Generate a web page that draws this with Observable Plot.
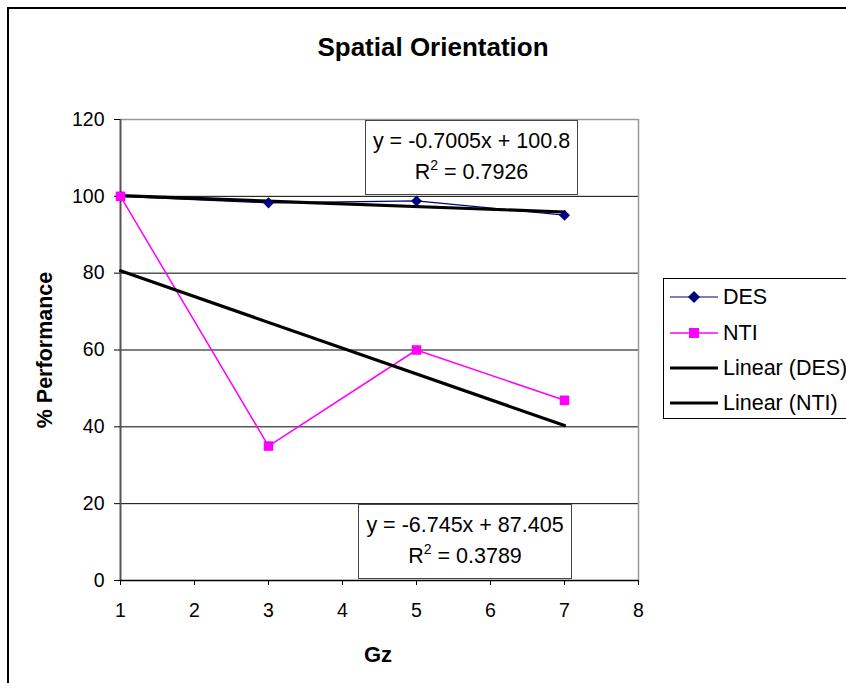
<!DOCTYPE html>
<html>
<head>
<meta charset="utf-8">
<script src="https://cdn.jsdelivr.net/npm/d3@7"></script>
<script src="https://cdn.jsdelivr.net/npm/@observablehq/plot@0.6"></script>
<style>
  html, body { margin: 0; padding: 0; background: #fff; }
  body { width: 846px; height: 683px; position: relative; overflow: hidden; font-family: "Liberation Sans", Arial, sans-serif; }
  #chart { position: absolute; left: 0; top: 0; }
  #chart svg text { font-size: 19.5px; font-family: "Liberation Sans", Arial, sans-serif; fill: #000; }
  .abs { position: absolute; }
  #frame { left: 7px; top: 7px; width: 900px; height: 800px; border-left: 2px solid #000; border-top: 2px solid #000; }
  #title { left: 0; width: 866px; top: 32px; line-height: 30px; text-align: center; font-weight: bold; font-size: 26px; }
  #ylab { left: 45px; top: 350px; transform: translate(-50%, -50%) rotate(-90deg); font-weight: bold; font-size: 21.5px; white-space: nowrap; }
  #xlab { left: 378px; top: 655px; transform: translate(-50%, -50%); font-weight: bold; font-size: 22px; }
  .eq { border: 1px solid #444; background: #fff; text-align: center; font-size: 21.5px; line-height: 31px; box-sizing: border-box; padding-top: 5px; white-space: nowrap; }
  .eq sup { font-size: 14px; line-height: 0; vertical-align: 9px; }
  #legend { left: 663px; top: 278px; width: 200px; height: 141px; border: 1px solid #000; box-sizing: border-box; background: #fff; }
  .item { position: absolute; left: 6px; height: 20px; font-size: 21.5px; display: flex; align-items: center; white-space: nowrap; }
  .item span { margin-left: 5px; }
</style>
</head>
<body>
<div id="frame" class="abs"></div>
<div id="chart"></div>
<div id="title" class="abs">Spatial Orientation</div>
<div id="ylab" class="abs">% Performance</div>
<div id="xlab" class="abs">Gz</div>
<div id="eqDES" class="abs eq"></div>
<div id="eqNTI" class="abs eq"></div>
<div id="legend" class="abs"></div>
<script>
// ---- data ----
const gz = [1, 3, 5, 7];
const desValues = [100, 98.3, 98.8, 95.1];
const ntiValues = [100, 35, 60, 46.9];
const seriesNames = ["DES", "NTI"];
const seriesColors = ["#000080", "#FF00FF"];
const trendSlopes = [-0.7005, -6.745];
const trendIntercepts = [100.8, 87.405];
const trendR2 = [0.7926, 0.3789];
const yTicks = [0, 20, 40, 60, 80, 100, 120];
const xTicks = [1, 2, 3, 4, 5, 6, 7, 8];
const legendLabels = ["DES", "NTI", "Linear (DES)", "Linear (NTI)"];

const des = gz.map((x, i) => ({x, y: desValues[i], s: "DES"}));
const nti = gz.map((x, i) => ({x, y: ntiValues[i], s: "NTI"}));

// rotated-square diamond
const diamondSym = {
  draw(ctx, size) {
    const r = Math.sqrt(size / 2);
    ctx.moveTo(0, -r); ctx.lineTo(r, 0); ctx.lineTo(0, r); ctx.lineTo(-r, 0); ctx.closePath();
  }
};
const squareSym = {
  draw(ctx, size) {
    const h = Math.sqrt(size) / 2;
    ctx.rect(-h, -h, 2 * h, 2 * h);
  }
};

const W = 846, H = 683;
const chart = Plot.plot({
  width: W, height: H,
  marginLeft: 120, marginRight: 208, marginTop: 119, marginBottom: 103,
  style: {fontFamily: "Liberation Sans, Arial, sans-serif", fontSize: "19.5px", color: "#000", background: "transparent", overflow: "visible"},
  x: {domain: [1, 8], label: null},
  y: {domain: [0, 120], label: null},
  marks: [
    Plot.ruleY(yTicks.filter(d => d > 0 && d < 120), {stroke: "#000", strokeWidth: 1, strokeOpacity: 1}),
    Plot.ruleY([120], {stroke: "#999", strokeWidth: 1.5}),
    Plot.ruleX([8], {stroke: "#999", strokeWidth: 1.5}),
    Plot.ruleX([1], {stroke: "#555", strokeWidth: 2}),
    Plot.ruleY([0], {stroke: "#000", strokeWidth: 1.5}),
    Plot.axisX({ticks: xTicks, tickSize: 5, tickPadding: 18, tickFormat: d3.format("d"), stroke: "#000", fontSize: 19.5, label: null}),
    Plot.axisY({ticks: yTicks, tickSize: 6, tickPadding: 10, tickFormat: d3.format("d"), stroke: "#000", fontSize: 19.5, label: null}),
    Plot.line(des, {x: "x", y: "y", stroke: seriesColors[0], strokeWidth: 1.2}),
    Plot.line(nti, {x: "x", y: "y", stroke: seriesColors[1], strokeWidth: 1.5}),
    Plot.linearRegressionY(des, {x: "x", y: "y", stroke: "#000", strokeWidth: 3.2, ci: 0}),
    Plot.linearRegressionY(nti, {x: "x", y: "y", stroke: "#000", strokeWidth: 3.2, ci: 0}),
    Plot.dot(des, {x: "x", y: "y", symbol: () => diamondSym, r: 4.4, fill: seriesColors[0], stroke: "none"}),
    Plot.dot(nti, {x: "x", y: "y", symbol: () => squareSym, r: 5.4, fill: seriesColors[1], stroke: "none"})
  ]
});
document.getElementById("chart").appendChild(chart);

function fmtEq(m, b, r2) {
  const sign = b >= 0 ? "+" : "-";
  return `y = ${m}x ${sign} ${Math.abs(b)}<br>R<sup>2</sup> = ${r2}`;
}
const e1 = document.getElementById("eqDES");
Object.assign(e1.style, {left: "365px", top: "120px", width: "213px", height: "75px"});
e1.innerHTML = fmtEq(trendSlopes[0], trendIntercepts[0], trendR2[0]);
const e2 = document.getElementById("eqNTI");
Object.assign(e2.style, {left: "358px", top: "504px", width: "214px", height: "75px"});
e2.innerHTML = fmtEq(trendSlopes[1], trendIntercepts[1], trendR2[1]);

// legend
const leg = document.getElementById("legend");
const ys = [8, 44, 79, 114];
legendLabels.forEach((lab, i) => {
  const d = document.createElement("div");
  d.className = "item";
  d.style.top = ys[i] + "px";
  let sw;
  if (i === 0) sw = `<svg width="48" height="20"><line x1="0" y1="10" x2="48" y2="10" stroke="${seriesColors[0]}" stroke-width="1.2"/><path d="M24,4 L30,10 L24,16 L18,10Z" fill="${seriesColors[0]}"/></svg>`;
  else if (i === 1) sw = `<svg width="48" height="20"><line x1="0" y1="10" x2="48" y2="10" stroke="${seriesColors[1]}" stroke-width="1.5"/><rect x="19" y="5" width="10" height="10" fill="${seriesColors[1]}"/></svg>`;
  else sw = `<svg width="48" height="20"><line x1="0" y1="10" x2="48" y2="10" stroke="#000" stroke-width="3"/></svg>`;
  d.innerHTML = sw + `<span>${lab}</span>`;
  leg.appendChild(d);
});
</script>
</body>
</html>
